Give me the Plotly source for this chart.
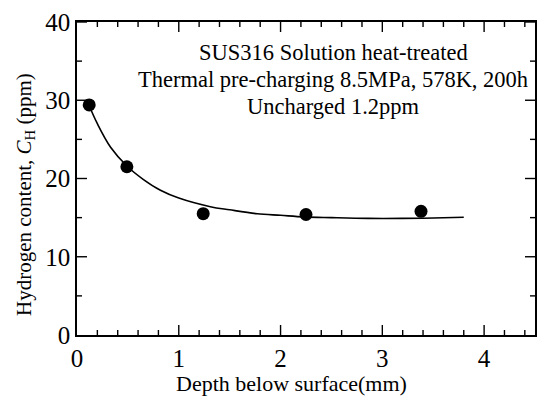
import plotly.graph_objects as go

# measured points
depth = [0.12, 0.49, 1.24, 2.25, 3.38]
content = [29.4, 21.5, 15.5, 15.4, 15.8]

# fitted curve
curve_x = [0.1, 0.2, 0.33, 0.49, 0.65, 0.82, 1.0, 1.31, 1.5, 1.77, 2.0, 2.23, 2.5, 2.86, 3.2, 3.5, 3.8]
curve_y = [29.9, 27.0, 24.0, 21.6, 19.9, 18.5, 17.5, 16.4, 16.0, 15.5, 15.3, 15.1, 15.0, 14.9, 14.9, 14.95, 15.05]

x_ticks = [0, 1, 2, 3, 4]
x_minor_step = 0.2
x_max = 4.5
y_ticks = [0, 10, 20, 30, 40]
y_minor_step = 5
y_max = 40

note_lines = ["SUS316 Solution heat-treated",
              "Thermal pre-charging 8.5MPa, 578K, 200h",
              "Uncharged 1.2ppm"]

FONT = "Liberation Serif"
PLOT_W, PLOT_H = 458, 313
MAJOR_LEN, MINOR_LEN = 10, 5  # px

fig = go.Figure()

# tick marks on all four sides (inside), built from the tick lists as one line trace
tx, ty = [], []
xu = x_max / PLOT_W   # data units per px
yu = y_max / PLOT_H
n_xminor = int(round(x_max / x_minor_step))
for i in range(1, n_xminor + 1):
    v = i * x_minor_step
    L = (MAJOR_LEN if any(abs(v - t) < 1e-9 for t in x_ticks) else MINOR_LEN) * yu
    tx += [v, v, None, v, v, None]
    ty += [0, L, None, y_max, y_max - L, None]
n_yminor = int(round(y_max / y_minor_step))
for i in range(1, n_yminor + 1):
    v = i * y_minor_step
    L = (MAJOR_LEN if any(abs(v - t) < 1e-9 for t in y_ticks) else MINOR_LEN) * xu
    tx += [0, L, None, x_max, x_max - L, None]
    ty += [v, v, None, v, v, None]
fig.add_trace(go.Scatter(x=tx, y=ty, mode="lines", line=dict(color="black", width=1.4),
                         showlegend=False, hoverinfo="skip", cliponaxis=False))

fig.add_trace(go.Scatter(x=curve_x, y=curve_y, mode="lines",
                         line=dict(color="black", width=1.6, shape="spline"),
                         showlegend=False, hoverinfo="skip"))
fig.add_trace(go.Scatter(x=depth, y=content, mode="markers",
                         marker=dict(color="black", size=13, symbol="circle"),
                         showlegend=False))

axis_common = dict(showgrid=False, zeroline=False, showline=True, linecolor="black",
                   linewidth=1.5, mirror=True, ticks="", tickfont=dict(family=FONT, size=25, color="black"))

fig.update_xaxes(range=[0, x_max], tickmode="array", tickvals=x_ticks,
                 ticktext=[str(v) for v in x_ticks], **axis_common)
fig.update_yaxes(range=[0, y_max], tickmode="array", tickvals=y_ticks,
                 ticktext=[str(v) for v in y_ticks], **axis_common)

fig.add_annotation(xref="paper", yref="paper", x=(291 - 77) / PLOT_W, y=(335 - 383) / PLOT_H,
                   text="Depth below surface(mm)", showarrow=False,
                   xanchor="center", yanchor="middle",
                   font=dict(family=FONT, size=22, color="black"))

fig.add_annotation(xref="paper", yref="paper", x=(25 - 77) / PLOT_W, y=(335 - 195) / PLOT_H,
                   text="Hydrogen content, <i>C</i><sub>H</sub> (ppm)", textangle=-90,
                   showarrow=False, xanchor="center", yanchor="middle",
                   font=dict(family=FONT, size=21, color="black"))

for line, ypix in zip(note_lines, [53, 80, 106]):
    fig.add_annotation(xref="paper", yref="paper", x=(333 - 77) / PLOT_W, y=(335 - ypix) / PLOT_H,
                       text=line, showarrow=False, xanchor="center", yanchor="middle",
                       font=dict(family=FONT, size=22.5, color="black"))

fig.update_layout(template="none", width=538, height=398, margin=dict(l=77, r=3, t=22, b=63),
                  plot_bgcolor="white", paper_bgcolor="white")

fig.write_html("out.html")
